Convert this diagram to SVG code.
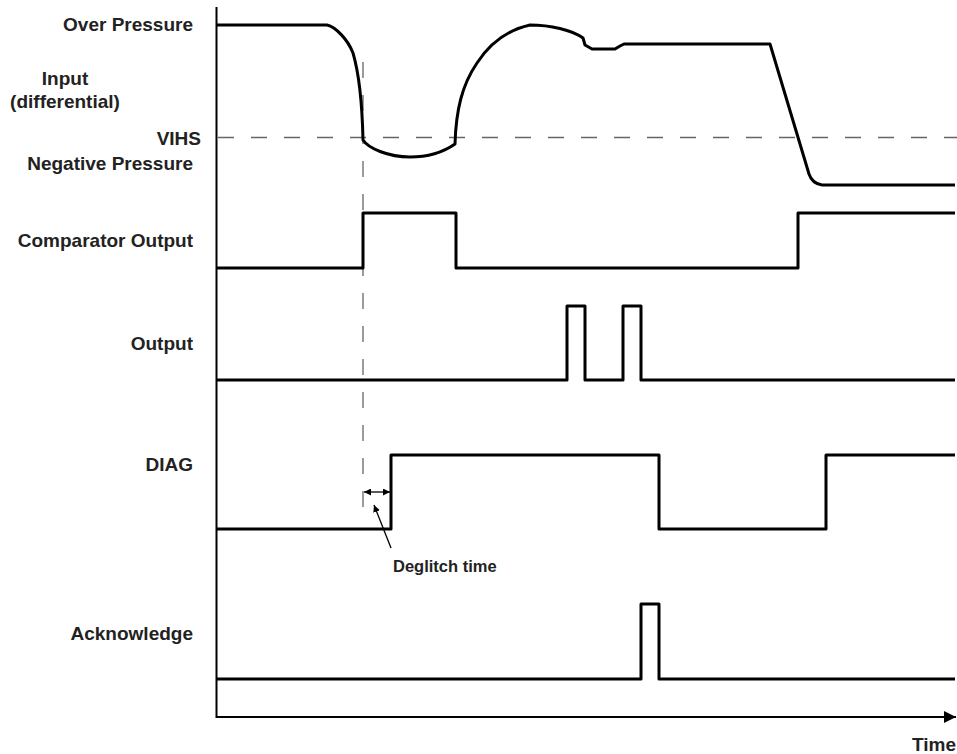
<svg xmlns="http://www.w3.org/2000/svg" width="957" height="754" viewBox="0 0 957 754">
<style>
.lbl{font-family:"Liberation Sans",Arial,sans-serif;font-weight:bold;font-size:19px;fill:#222}
.sig{fill:none;stroke:#000;stroke-width:3;stroke-linejoin:round}
.axis{fill:none;stroke:#000;stroke-width:2}
.dash{fill:none;stroke:#666;stroke-width:1.3;stroke-dasharray:16 17}
.thin{fill:none;stroke:#000;stroke-width:1.3}
</style>
<defs>
<marker id="ah" viewBox="0 0 10 10" refX="10" refY="5" markerWidth="7" markerHeight="7" markerUnits="userSpaceOnUse" orient="auto-start-reverse"><path d="M0,0 L10,5 L0,10 z" fill="#000"/></marker>
<marker id="big" viewBox="0 0 10 10" refX="10" refY="5" markerWidth="12" markerHeight="12" markerUnits="userSpaceOnUse" orient="auto"><path d="M0,0 L10,5 L0,10 z" fill="#000"/></marker>
</defs>
<g id="labels">
<text class="lbl" x="193" y="30.5" text-anchor="end">Over Pressure</text>
<text class="lbl" x="65" y="85" text-anchor="middle">Input</text>
<text class="lbl" x="65" y="108" text-anchor="middle">(differential)</text>
<text class="lbl" x="201" y="145" text-anchor="end">VIHS</text>
<text class="lbl" x="193" y="170" text-anchor="end">Negative Pressure</text>
<text class="lbl" x="193" y="247" text-anchor="end">Comparator Output</text>
<text class="lbl" x="193" y="350" text-anchor="end">Output</text>
<text class="lbl" x="193" y="471" text-anchor="end">DIAG</text>
<text class="lbl" x="193" y="640" text-anchor="end">Acknowledge</text>
<text class="lbl" x="956" y="751" text-anchor="end">Time</text>
</g>
<g id="axes">
<path class="axis" d="M216.5,7 V718"/>
<path class="axis" d="M216,717 H956" marker-end="url(#big)"/>
</g>
<g id="reference-lines">
<path class="dash" d="M218,137.5 H957"/>
<path class="dash" d="M363,62 V510"/>
</g>
<g id="input">
<path class="sig" d="M217,25 L327,25 C336,27 348,40 353,53 C358,70 362,95 363,140 C368,148 388,157 410,157 C430,157 445,151 455,144 C456,110 462,85 477,63 C490,43 507,30 530,25 C550,25 572,30 583,38 L585,45 L592,49 L615,49 L620,46 L624,44 L770,44 L809,174 C811,180 815,184 822,185 L955,185"/>
</g>
<g id="comparator">
<path class="sig" d="M217,268 H363 V213 H456 V268 H798 V213 H955"/>
</g>
<g id="output">
<path class="sig" d="M217,380 H567 V306 H585 V380 H623 V306 H641 V380 H955"/>
</g>
<g id="diag">
<path class="sig" d="M217,529 H391 V455 H659 V529 H826 V455 H955"/>
</g>
<g id="acknowledge">
<path class="sig" d="M217,679 H641 V604 H659 V679 H955"/>
</g>
<g id="deglitch">
<path class="thin" d="M364,492 H390" marker-start="url(#ah)" marker-end="url(#ah)"/>
<path class="thin" d="M391,548 L374,505" marker-end="url(#ah)"/>
<text class="lbl" x="393" y="572" style="font-size:16.5px">Deglitch time</text>
</g>
</svg>
